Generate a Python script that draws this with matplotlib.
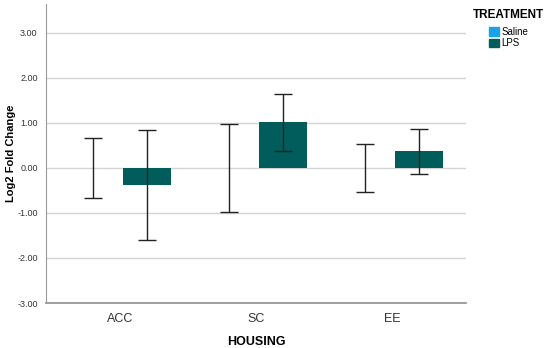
import numpy as np
import matplotlib
matplotlib.use("Agg")
import matplotlib.pyplot as plt
from matplotlib.patches import Patch

# data
housing = ["ACC", "SC", "EE"]
saline_mean = [0.0, 0.0, 0.0]
saline_err = [0.67, 0.97, 0.53]
lps_mean = [-0.38, 1.01, 0.37]
lps_err = [1.23, 0.63, 0.50]
yticks = [-3, -2, -1, 0, 1, 2, 3]

saline_col = "#1ba1e6"
lps_col = "#005d5c"

plt.rcParams["font.family"] = ["Liberation Sans", "DejaVu Sans"]

fig = plt.figure(figsize=(5.5, 3.48), dpi=100)
ax = fig.add_axes([0.0836, 0.1293, 0.847 - 0.0836, 0.9885 - 0.1293])

x = np.arange(len(housing))
off = 0.2
w = 0.353

ax.bar(x - off, saline_mean, w, color=saline_col, zorder=2)
ax.bar(x + off, lps_mean, w, color=lps_col, zorder=2)
ax.errorbar(x - off, saline_mean, yerr=saline_err, fmt="none", ecolor="#222222",
            elinewidth=1, capsize=6.5, capthick=1, zorder=3)
ax.errorbar(x + off, lps_mean, yerr=lps_err, fmt="none", ecolor="#222222",
            elinewidth=1, capsize=6.5, capthick=1, zorder=3)

ax.set_xlim(-0.545, 2.545)
ax.set_ylim(-3, 3.64)
ax.set_yticks(yticks)
ax.set_yticklabels([f"{v:.2f}" for v in yticks], fontsize=6.5, color="#333333")
ax.set_xticks(x)
ax.set_xticklabels(housing, fontsize=9, color="#333333")
ax.tick_params(length=0, pad=6)
ax.tick_params(axis="x", pad=7)

for v in yticks[1:]:
    ax.axhline(v, color="#d4d4d4", lw=1, zorder=1)

for s in ["top", "right"]:
    ax.spines[s].set_visible(False)
ax.spines["left"].set_color("#999999")
ax.spines["bottom"].set_color("#999999")
ax.spines["bottom"].set_linewidth(1.3)

ax.set_ylabel("Log2 Fold Change", fontsize=8, fontweight="bold", labelpad=1)
ax.set_xlabel("HOUSING", fontsize=9, fontweight="bold", labelpad=8)

fig.text(473 / 550, 1 - 15 / 348, "TREATMENT", fontsize=8.5, fontweight="bold",
         va="center", ha="left")
handles = [Patch(color=saline_col, label="Saline"), Patch(color=lps_col, label="LPS")]
fig.legend(handles=handles, loc="upper left", bbox_to_anchor=(487 / 550, 1 - 25 / 348),
           frameon=False, fontsize=7, handlelength=1.0, handleheight=1.0,
           handletextpad=0.25, labelspacing=0.15, borderpad=0.2, borderaxespad=0)

fig.savefig("out.png", dpi=100)
